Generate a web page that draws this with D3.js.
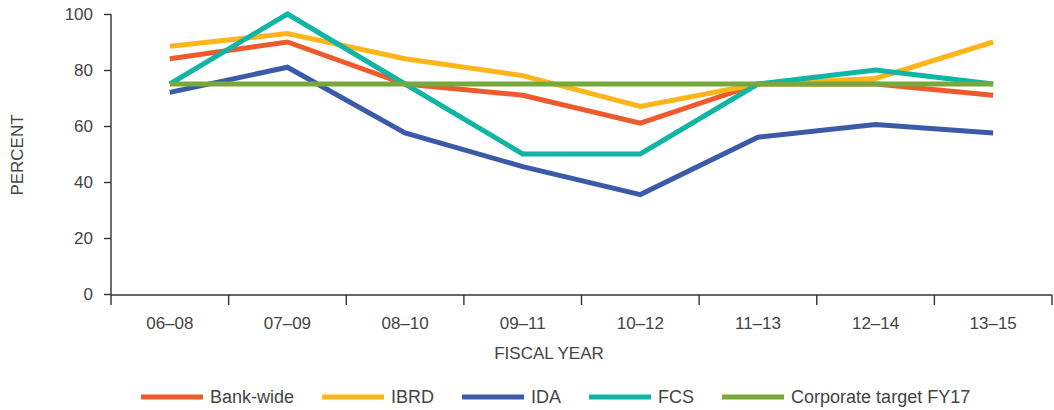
<!DOCTYPE html>
<html>
<head>
<meta charset="utf-8">
<script src="https://cdn.jsdelivr.net/npm/d3@7"></script>
<style>
  html, body { margin: 0; padding: 0; background: #fff; }
  svg text { font-family: "Liberation Sans", Arial, sans-serif; fill: #444; }
</style>
</head>
<body>
<svg id="chart" width="1054" height="410"></svg>
<script>
const categories = ["06–08", "07–09", "08–10", "09–11", "10–12", "11–13", "12–14", "13–15"];
const bankWide = [84, 90, 75, 71, 61, 75, 75, 71];
const ibrd     = [88.5, 93, 84, 78, 67, 75, 77, 90];
const ida      = [72, 81, 57.5, 45.5, 35.5, 56, 60.5, 57.5];
const fcs      = [75, 100, 75, 50, 50, 75, 80, 75];
const target   = [75, 75, 75, 75, 75, 75, 75, 75];
const yTicks = [0, 20, 40, 60, 80, 100];
const seriesNames = ["Bank-wide", "IBRD", "IDA", "FCS", "Corporate target FY17"];
const seriesColors = ["#ee5a2c", "#fdb51b", "#3b5aa8", "#10b5a6", "#77a83a"];
const seriesValues = [bankWide, ibrd, ida, fcs, target];

(function () {
const svg = d3.select("#chart");
const mLeft = 111, mRight = 1052, mTop = 14, mBottom = 294, axisY = 295;

const x = d3.scaleBand().domain(categories).range([mLeft, mRight]).padding(0);
const y = d3.scaleLinear().domain([0, 100]).range([mBottom, mTop]);

// Y axis
const yAxis = svg.append("g")
  .attr("transform", `translate(${mLeft},0)`)
  .call(d3.axisLeft(y).tickValues(yTicks).tickSize(7).tickPadding(11).tickFormat(d3.format("d")));
yAxis.select(".domain").attr("stroke", "#333").attr("stroke-width", 1.4).attr("d", `M0,${mTop}V${axisY}`);
yAxis.selectAll(".tick line").attr("stroke", "#333").attr("stroke-width", 1.4);
yAxis.selectAll(".tick text").style("font-size", "17px").attr("fill", "#444");

// X axis line + boundary ticks
const xAxis = svg.append("g").attr("transform", `translate(0,${axisY})`)
  .call(d3.axisBottom(x).tickSize(0).tickPadding(0));
xAxis.select(".domain").attr("stroke", "#333").attr("stroke-width", 1.4).attr("d", `M${mLeft},0H${mRight}`);
xAxis.selectAll(".tick text").attr("y", 34).attr("dy", 0).style("font-size", "17px").attr("fill", "#444");
const bounds = categories.map(c => x(c)).concat([x(categories[categories.length - 1]) + x.bandwidth()]);
xAxis.selectAll("line.bound").data(bounds).enter().append("line")
  .attr("class", "bound")
  .attr("x1", d => d).attr("x2", d => d)
  .attr("y1", 0).attr("y2", 10)
  .attr("stroke", "#333").attr("stroke-width", 1.4);

// Axis titles
svg.append("text")
  .attr("transform", "translate(23,155) rotate(-90)")
  .attr("text-anchor", "middle")
  .style("font-size", "17px")
  .text("PERCENT");
svg.append("text")
  .attr("x", 549).attr("y", 359)
  .attr("text-anchor", "middle")
  .style("font-size", "17px")
  .text("FISCAL YEAR");

// Lines
const line = d3.line()
  .x((d, i) => x(categories[i]) + x.bandwidth() / 2)
  .y(d => y(d));
seriesValues.forEach((vals, i) => {
  svg.append("path")
    .datum(vals)
    .attr("fill", "none")
    .attr("stroke", seriesColors[i])
    .attr("stroke-width", 5)
    .attr("stroke-linejoin", "miter")
    .attr("d", line);
});

// Legend
const legend = svg.append("g");
let lx = 141;
seriesNames.forEach((name, i) => {
  legend.append("line")
    .attr("x1", lx).attr("x2", lx + 62)
    .attr("y1", 397).attr("y2", 397)
    .attr("stroke", seriesColors[i]).attr("stroke-width", 5);
  const t = legend.append("text")
    .attr("x", lx + 69).attr("y", 403)
    .style("font-size", "18px")
    .text(name);
  lx = lx + 69 + t.node().getComputedTextLength() + 28;
});
})();
</script>
</body>
</html>
